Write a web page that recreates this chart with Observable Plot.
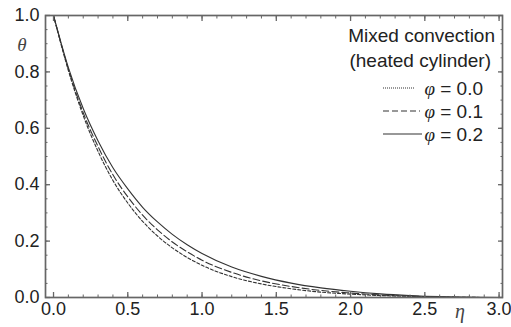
<!DOCTYPE html>
<html>
<head>
<meta charset="utf-8">
<script src="https://cdn.jsdelivr.net/npm/d3@7"></script>
<script src="https://cdn.jsdelivr.net/npm/@observablehq/plot@0.6"></script>
<style>
  html, body { margin: 0; padding: 0; background: #fff; }
  #chart { width: 511px; height: 327px; }
</style>
</head>
<body>
<div id="chart"></div>
<script>
// Data
const eta = [0, 0.1, 0.2, 0.3, 0.4, 0.5, 0.6, 0.7, 0.8, 0.9, 1.0, 1.2, 1.4, 1.6, 1.8, 2.0, 2.2, 2.4, 2.6, 2.8, 3.0];
const theta_phi00 = [1.0, 0.805, 0.645, 0.518, 0.415, 0.335, 0.27, 0.218, 0.176, 0.142, 0.114, 0.074, 0.048, 0.031, 0.019, 0.012, 0.007, 0.004, 0.002, 0.0005, 0.0];
const theta_phi01 = [1.0, 0.81, 0.655, 0.535, 0.435, 0.357, 0.292, 0.24, 0.197, 0.162, 0.132, 0.089, 0.059, 0.039, 0.025, 0.016, 0.009, 0.005, 0.002, 0.0005, 0.0];
const theta_phi02 = [1.0, 0.815, 0.67, 0.555, 0.46, 0.385, 0.32, 0.268, 0.224, 0.187, 0.156, 0.108, 0.075, 0.051, 0.034, 0.022, 0.013, 0.007, 0.003, 0.001, 0.0];
const seriesNames = ["φ = 0.0", "φ = 0.1", "φ = 0.2"];
const seriesDash = ["3,2", "7,3", null];
const xTicks = [0, 0.5, 1.0, 1.5, 2.0, 2.5, 3.0];
const yTicks = [0, 0.2, 0.4, 0.6, 0.8, 1.0];
const xMinor = d3.range(0, 3.0001, 0.1);
const yMinor = d3.range(0, 1.0001, 0.05);
const legendTitle = ["Mixed convection", "(heated cylinder)"];

const allSeries = [theta_phi00, theta_phi01, theta_phi02];
const rows = allSeries.map((vals, s) => eta.map((e, i) => ({eta: e, theta: vals[i], s})));

const axisColor = "#666";
const textColor = "#222";
const font = "'Liberation Sans', Arial, sans-serif";

const plot = Plot.plot({
  width: 511,
  height: 327,
  marginLeft: 45,
  marginRight: 9,
  marginTop: 15,
  marginBottom: 30,
  style: {fontFamily: font, fontSize: "18px", color: textColor, background: "#fff"},
  x: {domain: [-0.054, 3.023]},
  y: {domain: [0, 1]},
  marks: [
    ...rows.map((r, s) => Plot.line(r, {
      x: "eta", y: "theta", curve: "monotone-x",
      stroke: "#333", strokeWidth: 1.1,
      strokeDasharray: seriesDash[s]
    })),
    Plot.axisX(xMinor, {anchor: "bottom", tickSize: -2.5, text: null, label: null, stroke: axisColor}),
    Plot.axisX(xMinor, {anchor: "top", tickSize: -2.5, text: null, label: null, stroke: axisColor}),
    Plot.axisY(yMinor, {anchor: "left", tickSize: -2.5, text: null, label: null, stroke: axisColor}),
    Plot.axisY(yMinor, {anchor: "right", tickSize: -2.5, text: null, label: null, stroke: axisColor}),
    Plot.axisX(xTicks, {anchor: "bottom", tickSize: -5, text: null, label: null, stroke: axisColor, strokeWidth: 1.3}),
    Plot.axisX(xTicks, {anchor: "top", tickSize: -5, text: null, label: null, stroke: axisColor, strokeWidth: 1.3}),
    Plot.axisY(yTicks, {anchor: "left", tickSize: -5, text: null, label: null, stroke: axisColor, strokeWidth: 1.3}),
    Plot.axisY(yTicks, {anchor: "right", tickSize: -5, text: null, label: null, stroke: axisColor, strokeWidth: 1.3}),
    Plot.axisX(xTicks, {anchor: "bottom", tickSize: 0, tickPadding: 5, tickFormat: d3.format(".1f"), label: null, fill: textColor}),
    Plot.axisY(yTicks, {anchor: "left", tickSize: 0, tickPadding: 6, tickFormat: d3.format(".1f"), label: null, fill: textColor}),
    Plot.frame({stroke: axisColor, strokeWidth: 1.7})
  ]
});

document.getElementById("chart").appendChild(plot);

const svg = d3.select(plot);
svg.append("text")
  .attr("x", 22).attr("y", 51)
  .attr("text-anchor", "middle")
  .style("font-family", "'Liberation Serif', 'DejaVu Serif', serif")
  .style("font-style", "italic").style("font-size", "19px")
  .attr("fill", "#444")
  .text("θ");
svg.append("text")
  .attr("x", 460).attr("y", 318)
  .attr("text-anchor", "middle")
  .style("font-family", "'Liberation Serif', 'DejaVu Serif', serif")
  .style("font-style", "italic").style("font-size", "20px")
  .attr("fill", "#444")
  .text("η");

const lg = svg.append("g").style("font-family", font).style("font-size", "19px").attr("fill", textColor);
legendTitle.forEach((t, i) => {
  lg.append("text")
    .attr("x", i === 0 ? 495 : 491).attr("y", 42 + i * 25)
    .attr("text-anchor", "end")
    .text(t);
});
seriesNames.forEach((name, i) => {
  const yy = 88 + i * 23;
  lg.append("line")
    .attr("x1", 383).attr("x2", i === 0 ? 415 : (i === 1 ? 420 : 422))
    .attr("y1", yy).attr("y2", yy)
    .attr("stroke", "#333").attr("stroke-width", 1.1)
    .attr("stroke-dasharray", i === 0 ? "1,1" : (i === 1 ? "6,3" : null));
  const t = lg.append("text")
    .attr("x", 483).attr("y", yy + 7)
    .attr("text-anchor", "end");
  t.append("tspan")
    .style("font-family", "'Liberation Serif', 'DejaVu Serif', serif")
    .style("font-style", "italic")
    .text(name.slice(0, 1));
  t.append("tspan").text(name.slice(1));
});
</script>
</body>
</html>
